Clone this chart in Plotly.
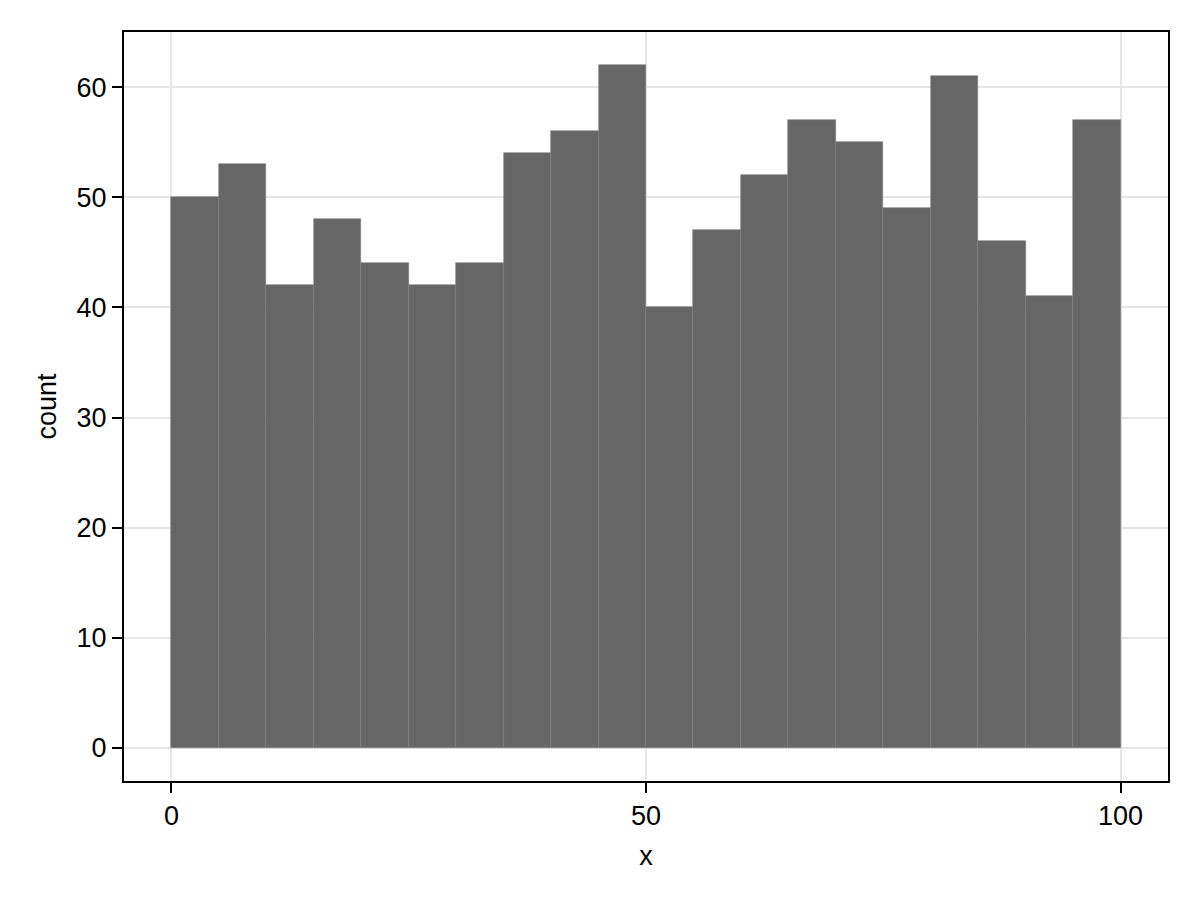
import plotly.graph_objects as go

# histogram: 20 bins of width 5 over [0, 100]
bin_edges = [0, 5, 10, 15, 20, 25, 30, 35, 40, 45, 50, 55, 60, 65, 70, 75, 80, 85, 90, 95, 100]
counts = [50, 53, 42, 48, 44, 42, 44, 54, 56, 62, 40, 47, 52, 57, 55, 49, 61, 46, 41, 57]

centers = [(a + b) / 2 for a, b in zip(bin_edges[:-1], bin_edges[1:])]
widths = [b - a for a, b in zip(bin_edges[:-1], bin_edges[1:])]

fig = go.Figure(go.Bar(
    x=centers,
    y=counts,
    width=widths,
    marker=dict(color="#666666", line=dict(color="#808080", width=0.6)),
    hoverinfo="x+y",
))

axis_style = dict(
    showgrid=True,
    gridcolor="#e6e6e6",
    gridwidth=1.5,
    zeroline=False,
    showline=True,
    linecolor="black",
    linewidth=2,
    mirror=True,
    ticks="outside",
    ticklen=10,
    tickwidth=1.5,
    tickcolor="black",
    tickfont=dict(size=27, color="black"),
)

fig.update_xaxes(
    range=[-5, 105],
    tickvals=[0, 50, 100],
    title=dict(text="x", font=dict(size=27, color="black"), standoff=16),
    **axis_style,
)
fig.update_yaxes(
    range=[-3, 65],
    tickvals=[0, 10, 20, 30, 40, 50, 60],
    title=dict(text="count", font=dict(size=27, color="black"), standoff=12),
    **axis_style,
)

fig.update_layout(
    width=1200,
    height=900,
    margin=dict(l=116, r=40, t=24, b=127),
    paper_bgcolor="white",
    plot_bgcolor="white",
    bargap=0,
    showlegend=False,
    font=dict(family="Liberation Sans, Arial, sans-serif", size=27, color="black"),
)

fig.write_html("out.html")
